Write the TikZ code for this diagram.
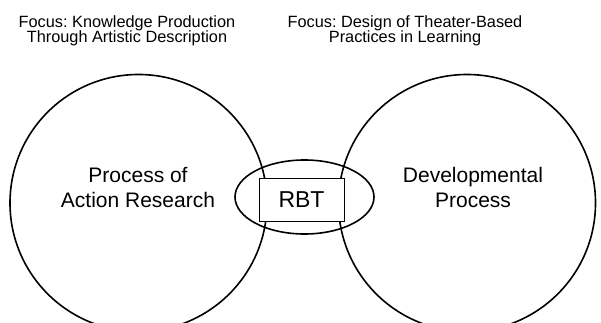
\documentclass[tikz,border=0pt]{standalone}
\usepackage{fontspec}
\setmainfont{Liberation Sans}
\usetikzlibrary{shapes.geometric}
\frenchspacing
\begin{document}
\begin{tikzpicture}[x=1pt,y=-1pt,
  focus/.style={align=center, anchor=base, inner sep=0pt,
    font=\fontsize{16.3}{15.4}\selectfont},
  area/.style={circle, draw, line width=1.6pt, minimum size=257pt, inner sep=0pt},
  inner/.style={align=center, anchor=base, inner sep=0pt,
    font=\fontsize{21}{25}\selectfont},
  link/.style={ellipse, draw, line width=1.6pt, minimum width=139pt,
    minimum height=74pt, inner sep=0pt},
  core/.style={rectangle, draw, line width=0.7pt, minimum width=85pt,
    minimum height=43pt, inner sep=0pt, font=\fontsize{23}{26}\selectfont}]
  \useasboundingbox (0,0) rectangle (601,323);
  \clip (0,0) rectangle (601,323);
  % two process areas
  \node[area] (ar) at (138.5,203) {};
  \node[area] (dp) at (467,203) {};
  % overlap region with the shared core
  \node[link] (ov) at (304.5,197) {};
  \node[core, fill=white] (rbt) at (301.5,199.5) {RBT};
  % area labels (anchored on the baseline of the last line)
  \node[inner] (arlbl) at (138,207) {Process of\\Action Research};
  \node[inner] (dplbl) at (473,207) {Developmental\\Process};
  % focus captions
  \node[focus] (arfocus) at (127,42.7) {Focus: Knowledge Production\\Through Artistic Description};
  \node[focus] (dpfocus) at (405,42.7) {Focus: Design of Theater-Based\\Practices in Learning};
\end{tikzpicture}
\end{document}
